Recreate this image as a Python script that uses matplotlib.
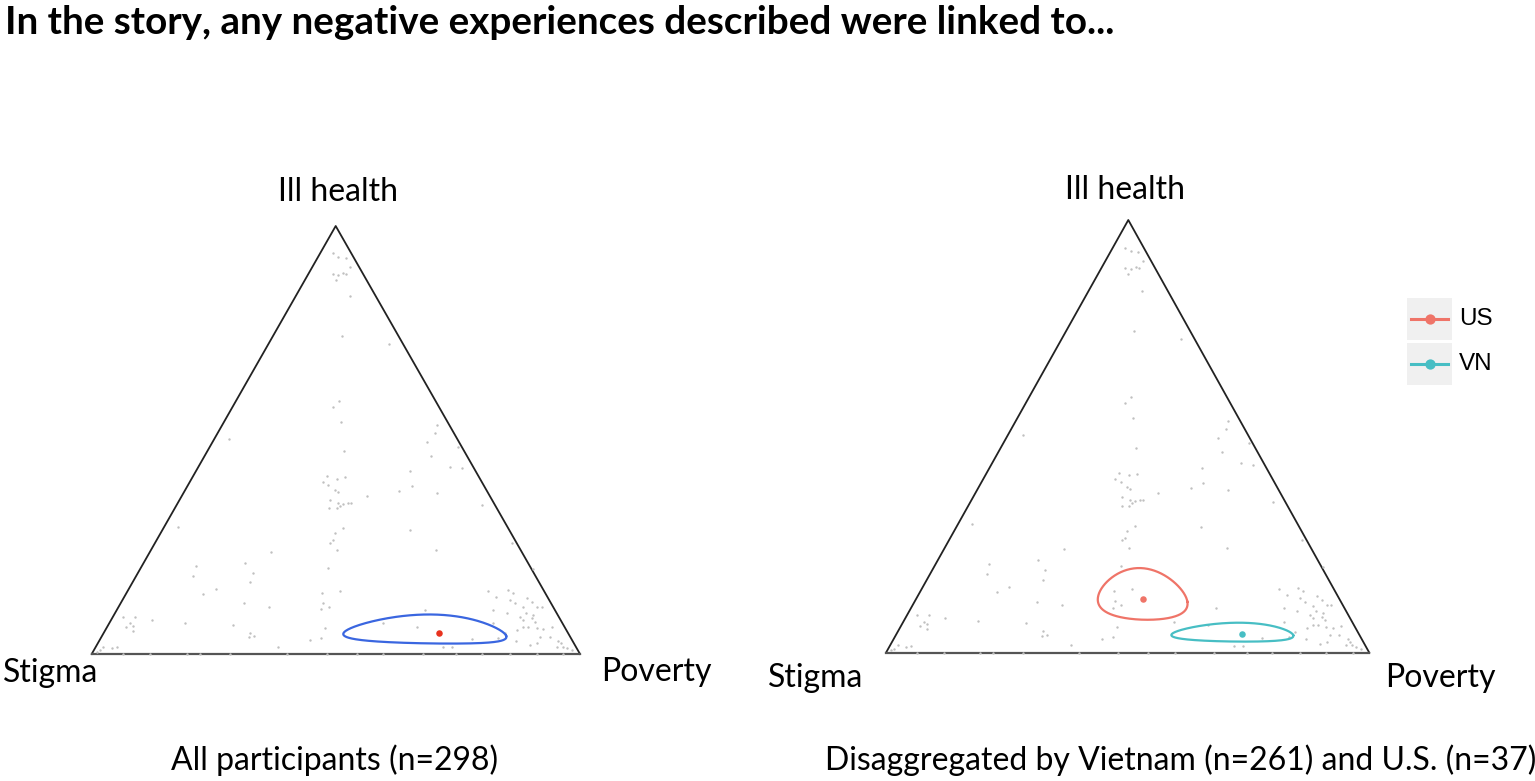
import numpy as np
import matplotlib
matplotlib.use('Agg')
import matplotlib.pyplot as plt
from matplotlib.patches import Rectangle

# ternary compositions of the responses: share of "Ill health" and "Poverty"
# (stigma = 1 - ill - pov)
ill = [0.936, 0.928, 0.926, 0.889, 0.886, 0.891, 0.888, 0.875, 0.905, 0.836, 0.743, 0.724,
       0.590, 0.578, 0.543, 0.474, 0.503, 0.535, 0.516, 0.496, 0.463, 0.438, 0.434, 0.484,
       0.428, 0.3925, 0.3815, 0.377, 0.348, 0.290, 0.243, 0.260, 0.198,
       0.416, 0.410, 0.414, 0.4025, 0.395, 0.383, 0.379, 0.360, 0.352, 0.350, 0.3535, 0.352,
       0.346, 0.340, 0.340, 0.369,
       0.2935, 0.282, 0.266, 0.260, 0.243, 0.200, 0.239, 0.2975, 0.2055, 0.182, 0.2135, 0.190,
       0.169, 0.151, 0.140, 0.118, 0.1105,
       0.087, 0.087, 0.0717, 0.0654, 0.0623, 0.0545, 0.0794, 0.0732, 0.0678, 0.0156, 0.0132,
       0.0171, 0.0093, 0.0055,
       0.1417, 0.120, 0.1106, 0.1044, 0.060, 0.0366, 0.0327, 0.0498, 0.042, 0.039, 0.0171,
       0.148, 0.0717, 0.0639, 0.1028, 0.0343, 0.0156, 0.0156,
       0.148, 0.1495, 0.1433, 0.134, 0.126, 0.118, 0.130, 0.122, 0.1028, 0.0966, 0.109, 0.1106,
       0.1106, 0.0966, 0.0911, 0.0833, 0.0872, 0.0794, 0.0755, 0.0639, 0.0561, 0.0639, 0.060,
       0.0576, 0.0623, 0.0405, 0.0249, 0.021, 0.0405, 0.0312, 0.0249, 0.0171, 0.0132, 0.0093,
       0.0171, 0.0312, 0.0483, 0.0366, 0.0717,
       0.0, 0.0, 0.0, 0.0, 0.0, 0.0, 0.0, 0.0, 0.0, 0.0, 0.0, 0.0, 0.0, 0.0, 0.0]
pov = [0.0255, 0.041, 0.058, 0.049, 0.062, 0.070, 0.078, 0.063, 0.0775, 0.111, 0.1415, 0.247,
       0.212, 0.2045, 0.2385, 0.280, 0.0305, 0.439, 0.445, 0.438, 0.4625, 0.515, 0.541, 0.509,
       0.439, 0.459, 0.439, 0.518, 0.626, 0.507, 0.5835, 0.730, 0.8055,
       0.273, 0.297, 0.312, 0.273, 0.2875, 0.3065, 0.3155, 0.308, 0.329, 0.340, 0.349, 0.356,
       0.3355, 0.317, 0.332, 0.3785,
       0.368, 0.357, 0.3605, 0.358, 0.3805, 0.385, 0.2475, 0.029, 0.111, 0.117, 0.207, 0.2345,
       0.2395, 0.179, 0.1585, 0.253, 0.3085,
       0.0215, 0.045, 0.043, 0.0526, 0.039, 0.0567, 0.083, 0.154, 0.255, 0.0434, 0.0344,
       0.0153, 0.0124, 0.0075,
       0.400, 0.4144, 0.4314, 0.4174, 0.448, 0.4507, 0.4307, 0.299, 0.3114, 0.3034, 0.3737,
       0.4345, 0.560, 0.6336, 0.631, 0.761, 0.712, 0.731,
       0.738, 0.778, 0.792, 0.762, 0.7937, 0.808, 0.827, 0.840, 0.771, 0.8017, 0.8295, 0.856,
       0.866, 0.841, 0.859, 0.8594, 0.8334, 0.8443, 0.870, 0.862, 0.842, 0.852, 0.881,
       0.896, 0.911, 0.898, 0.899, 0.887, 0.918, 0.940, 0.9479, 0.956, 0.966, 0.978,
       0.9437, 0.854, 0.822, 0.8145, 0.7867,
       0.065, 0.119, 0.195, 0.222, 0.283, 0.399, 0.481, 0.543, 0.597, 0.679, 0.747, 0.799,
       0.857, 0.911, 0.966]

# group means (ill, pov) and spread of the confidence contour in log-ratio space
groups = ['All', 'US', 'VN']
mean_ill = [0.048, 0.124, 0.0424]
mean_pov = [0.688, 0.4697, 0.716]
spread_a = [0.894, 0.43, 0.705]
spread_b = [0.70, 0.54, 0.52]
shear = [0.158, -0.05, 0.24]

corner_names = ['Ill health', 'Stigma', 'Poverty']

W, H = 1535, 781
fig = plt.figure(figsize=(W / 100, H / 100), dpi=100)
ax = fig.add_axes([0, 0, 1, 1])
ax.set_xlim(0, W)
ax.set_ylim(H, 0)
ax.axis('off')

FONT = ['Lato', 'DejaVu Sans']

# triangle corners in pixel space: (top, left, right)
tri_left = [(335.7, 226), (91.7, 654), (580, 654)]
tri_right = [(1128.3, 220), (886, 652.7), (1369.3, 652.7)]


def to_xy(tri, i, p):
    i = np.asarray(i, float)
    p = np.asarray(p, float)
    s = 1 - i - p
    top, left, right = [np.array(v) for v in tri]
    x = s * left[0] + p * right[0] + i * top[0]
    y = s * left[1] + p * right[1] + i * top[1]
    return x, y


def contour(mi, mp, A, B, k):
    ms = 1 - mi - mp
    a0 = np.log(mp / ms)
    b0 = np.log(mi / np.sqrt(ms * mp))
    t = np.linspace(0, 2 * np.pi, 300)
    a = a0 + A * np.cos(t)
    b = b0 + B * np.sin(t) + k * A * np.cos(t)
    s = np.ones_like(a)
    p = np.exp(a)
    i = np.sqrt(s * p) * np.exp(b)
    tot = s + p + i
    return i / tot, p / tot


def draw_triangle(tri):
    top, left, right = tri
    ax.plot([left[0], top[0], right[0]], [left[1], top[1], right[1]],
            color='#222222', lw=1.3, zorder=2)
    ax.plot([left[0], right[0]], [left[1], right[1]], color='#555555', lw=1.6, zorder=2)
    x, y = to_xy(tri, ill, pov)
    ax.scatter(x, y, s=3, color='#c0c0c0', linewidths=0, zorder=3)


draw_triangle(tri_left)
draw_triangle(tri_right)

# left panel: all participants
ci, cp = contour(mean_ill[0], mean_pov[0], spread_a[0], spread_b[0], shear[0])
x, y = to_xy(tri_left, ci, cp)
ax.plot(x, y, color='#3a66e0', lw=1.6, zorder=4)
x, y = to_xy(tri_left, mean_ill[0], mean_pov[0])
ax.scatter(x, y, s=22, color='#e8321e', linewidths=0, zorder=5)

# right panel: by country
colors = {'US': '#ef7468', 'VN': '#47bec4'}
for g in [1, 2]:
    ci, cp = contour(mean_ill[g], mean_pov[g], spread_a[g], spread_b[g], shear[g])
    x, y = to_xy(tri_right, ci, cp)
    ax.plot(x, y, color=colors[groups[g]], lw=1.6, zorder=4)
    x, y = to_xy(tri_right, mean_ill[g], mean_pov[g])
    ax.scatter(x, y, s=22, color=colors[groups[g]], linewidths=0, zorder=5)

# corner labels
for tri, offs in [(tri_left, [(2, -34), (-41, 19), (76, 18)]),
                  (tri_right, [(-3, -30), (-70, 25), (71, 25)])]:
    for (vx, vy), (dx, dy), name in zip(tri, offs, corner_names):
        ax.text(vx + dx, vy + dy, name, fontsize=23, family=FONT,
                ha='center', va='center', color='black')

# legend
for j, g in enumerate(['US', 'VN']):
    y0 = 298 + j * 45
    ax.add_patch(Rectangle((1407, y0), 45, 42, color='#f0f0f0', lw=0, zorder=2))
    ax.plot([1411, 1448], [y0 + 21, y0 + 21], color=colors[g], lw=2.2, zorder=3)
    ax.scatter([1429.5], [y0 + 21], s=55, color=colors[g], linewidths=0, zorder=4)
    ax.text(1459, y0 + 21, g, fontsize=17.5, family=['Liberation Sans', 'DejaVu Sans'],
            ha='left', va='center')

ax.text(5, 22, 'In the story, any negative experiences described were linked to...',
        fontsize=27.8, fontweight='bold', family=FONT, ha='left', va='center')
ax.text(335, 760, 'All participants (n=298)', fontsize=23, family=FONT,
        ha='center', va='center')
ax.text(1181, 760, 'Disaggregated by Vietnam (n=261) and U.S. (n=37)', fontsize=23,
        family=FONT, ha='center', va='center')

fig.savefig('out.png', dpi=100)
